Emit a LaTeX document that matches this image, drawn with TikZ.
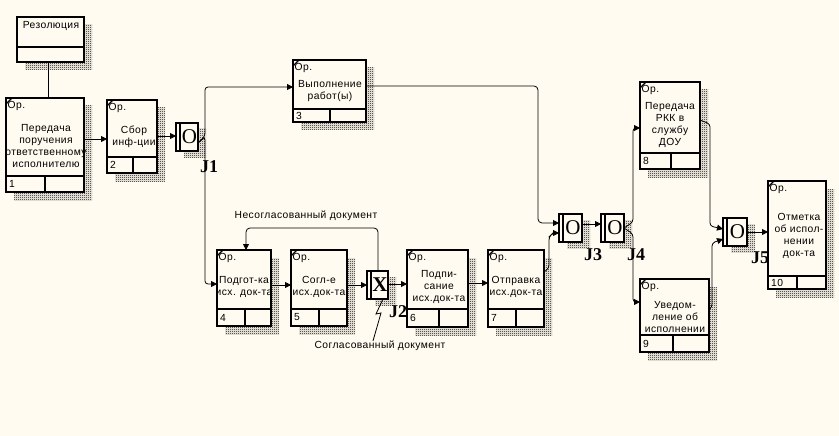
\documentclass[tikz,border=0pt]{standalone}
\usepackage{fontspec}
\setmainfont{Liberation Sans}[LetterSpace=4.0]
\newfontfamily\jfont{Liberation Serif}
\usetikzlibrary{arrows.meta,patterns}
\definecolor{bgc}{RGB}{255,251,240}
\pgfdeclarepatternformonly{chk}{\pgfqpoint{0pt}{0pt}}{\pgfqpoint{2pt}{2pt}}{\pgfqpoint{2pt}{2pt}}{%
  \pgfpathrectangle{\pgfqpoint{0pt}{0pt}}{\pgfqpoint{1pt}{1pt}}%
  \pgfpathrectangle{\pgfqpoint{1pt}{1pt}}{\pgfqpoint{1pt}{1pt}}%
  \pgfusepath{fill}}
\tikzset{
  boxn/.style={draw, line width=1.6pt, fill=bgc, inner sep=0pt, outer sep=0pt},
  shad/.style={pattern=chk, pattern color=black},
  conn/.style={line width=0.8pt},
  arr/.style={conn, -{Triangle[length=6pt,width=6pt]}, rounded corners=3pt},
  txt/.style={font=\fontsize{10.3}{12}\selectfont, align=center, inner sep=0pt},
  jl/.style={font=\jfont\bfseries\fontsize{18}{18}\selectfont, inner sep=0pt},
  jletter/.style={font=\jfont\fontsize{21}{21}\selectfont, inner sep=0pt},
}
% name x0 y0 x1 y1 ydiv xdiv number
\newcommand\ubox[8]{%
  \fill[shad] (#2+8,#3+8) rectangle (#4+8,#5+8);
  \node[boxn, anchor=north west, minimum width={#4-#2}, minimum height={#5-#3}] (#1) at (#2,#3) {};
  \draw[line width=1.6pt] (#2,#6) -- (#4,#6);
  \draw[line width=1.6pt] (#7,#6) -- (#7,#5);
  \draw[line width=1.4pt] (#2,#3+6) -- (#2+6,#3);
  \node[txt, anchor=west] (#1-op) at (#2+1.5,#3+7.5) {Ор.};
  \node[txt, anchor=west] (#1-n) at (#2+3,{(#6+#5)/2}) {#8};
}
% name x0 y0 x1 y1 letter
\newcommand\ujunc[6]{%
  \fill[shad] (#2+8,#3+6) rectangle (#4+8,#5+6);
  \node[boxn, anchor=north west, minimum width={#4-#2}, minimum height={#5-#3}] (#1) at (#2,#3) {};
  \draw[line width=1.2pt] (#2+4,#3) -- (#2+4,#5);
  \node[jletter] (#1-l) at ({(#2+4+#4)/2+0.5},{(#3+#5)/2}) {#6};
}
\begin{document}
\begin{tikzpicture}[x=1pt,y=-1pt]
\fill[bgc] (0,0) rectangle (839,436);
\useasboundingbox (0,0) rectangle (839,436);

% Resolution
\fill[shad] (25,25) rectangle (92,70);
\node[boxn, anchor=north west, minimum width=67, minimum height=45] (res) at (17,17) {};
\draw[line width=1.6pt] (17,47) -- (84,47);
\node[txt] (res-t) at (51,26) {Резолюция};

% Boxes
\ubox{b1}{6}{98}{84}{192}{176}{45}{1}
\ubox{b2}{107}{100}{157}{173}{157}{133}{2}
\ubox{b3}{293}{60}{366}{122}{109}{330}{3}
\ubox{b4}{217}{250}{271}{326}{309}{245}{4}
\ubox{b5}{291}{250}{347}{326}{309}{319}{5}
\ubox{b6}{407}{250}{468}{327}{309}{439}{6}
\ubox{b7}{488}{250}{544}{327}{309}{516}{7}
\ubox{b8}{640}{82}{700}{169}{153}{671}{8}
\ubox{b9}{640}{279}{709}{352}{335}{673}{9}
\ubox{b10}{768}{181}{826}{289}{276}{797}{10}

\node[txt] (b1-t) at (46,146) {Передача\\поручения\\ответственному\\исполнителю};
\node[txt] (b2-t) at (134,137) {Сбор\\инф-ции};
\node[txt] (b3-t) at (330,91) {Выполнение\\работ(ы)};
\node[txt] (b4-t) at (244,287) {Подгот-ка\\исх. док-та};
\node[txt] (b5-t) at (319,287) {Согл-е\\исх.док-та};
\node[txt] (b6-t) at (439,287) {Подпи-\\сание\\исх.док-та};
\node[txt] (b7-t) at (516,287) {Отправка\\исх.док-та};
\node[txt] (b8-t) at (670,125) {Передача\\РКК в\\службу\\ДОУ};
\node[txt] (b9-t) at (675,317) {Уведом-\\ление об\\исполнении};
\node[txt] (b10-t) at (799,236) {Отметка\\об испол-\\нении\\док-та};

% Junctions
\ujunc{j1}{176}{123}{198}{151}{O}
\ujunc{j2}{367}{271}{388}{299}{\bfseries X}
\ujunc{j3}{559}{214}{582}{242}{O}
\ujunc{j4}{601}{214}{624}{242}{O}
\ujunc{j5}{723}{218}{747}{246}{O}

\node[jl] (j1-name) at (209,167) {J1};
\node[jl] (j2-name) at (398,312) {J2};
\node[jl] (j3-name) at (593,255) {J3};
\node[jl] (j4-name) at (636,255) {J4};
\node[jl] (j5-name) at (760,258) {J5};

% Connectors
\draw[conn] (res.south -| 48,0) -- (b1.north -| 48,0);
\draw[arr] (b1.east |- 0,139) -- (b2.west |- 0,139);
\draw[arr] (b2.east |- 0,136) -- (j1.west |- 0,136);
\draw[arr] (j1.east |- 0,143) -- (205,136) -- (205,87) -- (b3.west |- 0,87);
\draw[arr] (j1.east |- 0,143) -- (205,137) -- (205,284) -- (b4.west |- 0,284);
\draw[arr] (b4.east |- 0,285) -- (b5.west |- 0,285);
\draw[arr] (b5.east |- 0,285) -- (j2.west |- 0,285);
\draw[arr] (j2.east |- 0,284) -- (b6.west |- 0,284);
\draw[arr, rounded corners=4pt] (j2.north -| 378,0) -- (378,228) -- (246,228) -- (b4.north -| 246,0);
\node[txt] (lab1) at (306,216) {Несогласованный документ};
\node[txt] (lab2) at (380,346) {Согласованный документ};
\draw[conn] (j2.south -| 383,0) -- (376,314) -- (381,313) -- (lab2.north -| 373,0);
\draw[arr] (b6.east |- 0,283) -- (b7.west |- 0,283);
\draw[arr, rounded corners=4pt] (b3.east |- 0,86) -- (538,86) -- (538,223) -- (j3.west |- 0,223);
\draw[arr] (b7.east |- 0,272) -- (549,268) -- (549,237) -- (553,233) -- (j3.west |- 0,233);
\draw[arr] (j3.east |- 0,224) -- (j4.west |- 0,224);
\draw[arr] (j4.east |- 0,228) -- (633,222) -- (633,128) -- (b8.west |- 0,128);
\draw[arr] (j4.east |- 0,228) -- (633,234) -- (633,302) -- (b9.west |- 0,302);
\draw[arr] (b8.east |- 0,120) -- (710,124) -- (710,226) -- (j5.west |- 0,229);
\draw[arr] (b9.east |- 0,310) -- (712,307) -- (712,243) -- (j5.west |- 0,239);
\draw[arr] (j5.east |- 0,232) -- (b10.west |- 0,232);
\end{tikzpicture}
\end{document}
